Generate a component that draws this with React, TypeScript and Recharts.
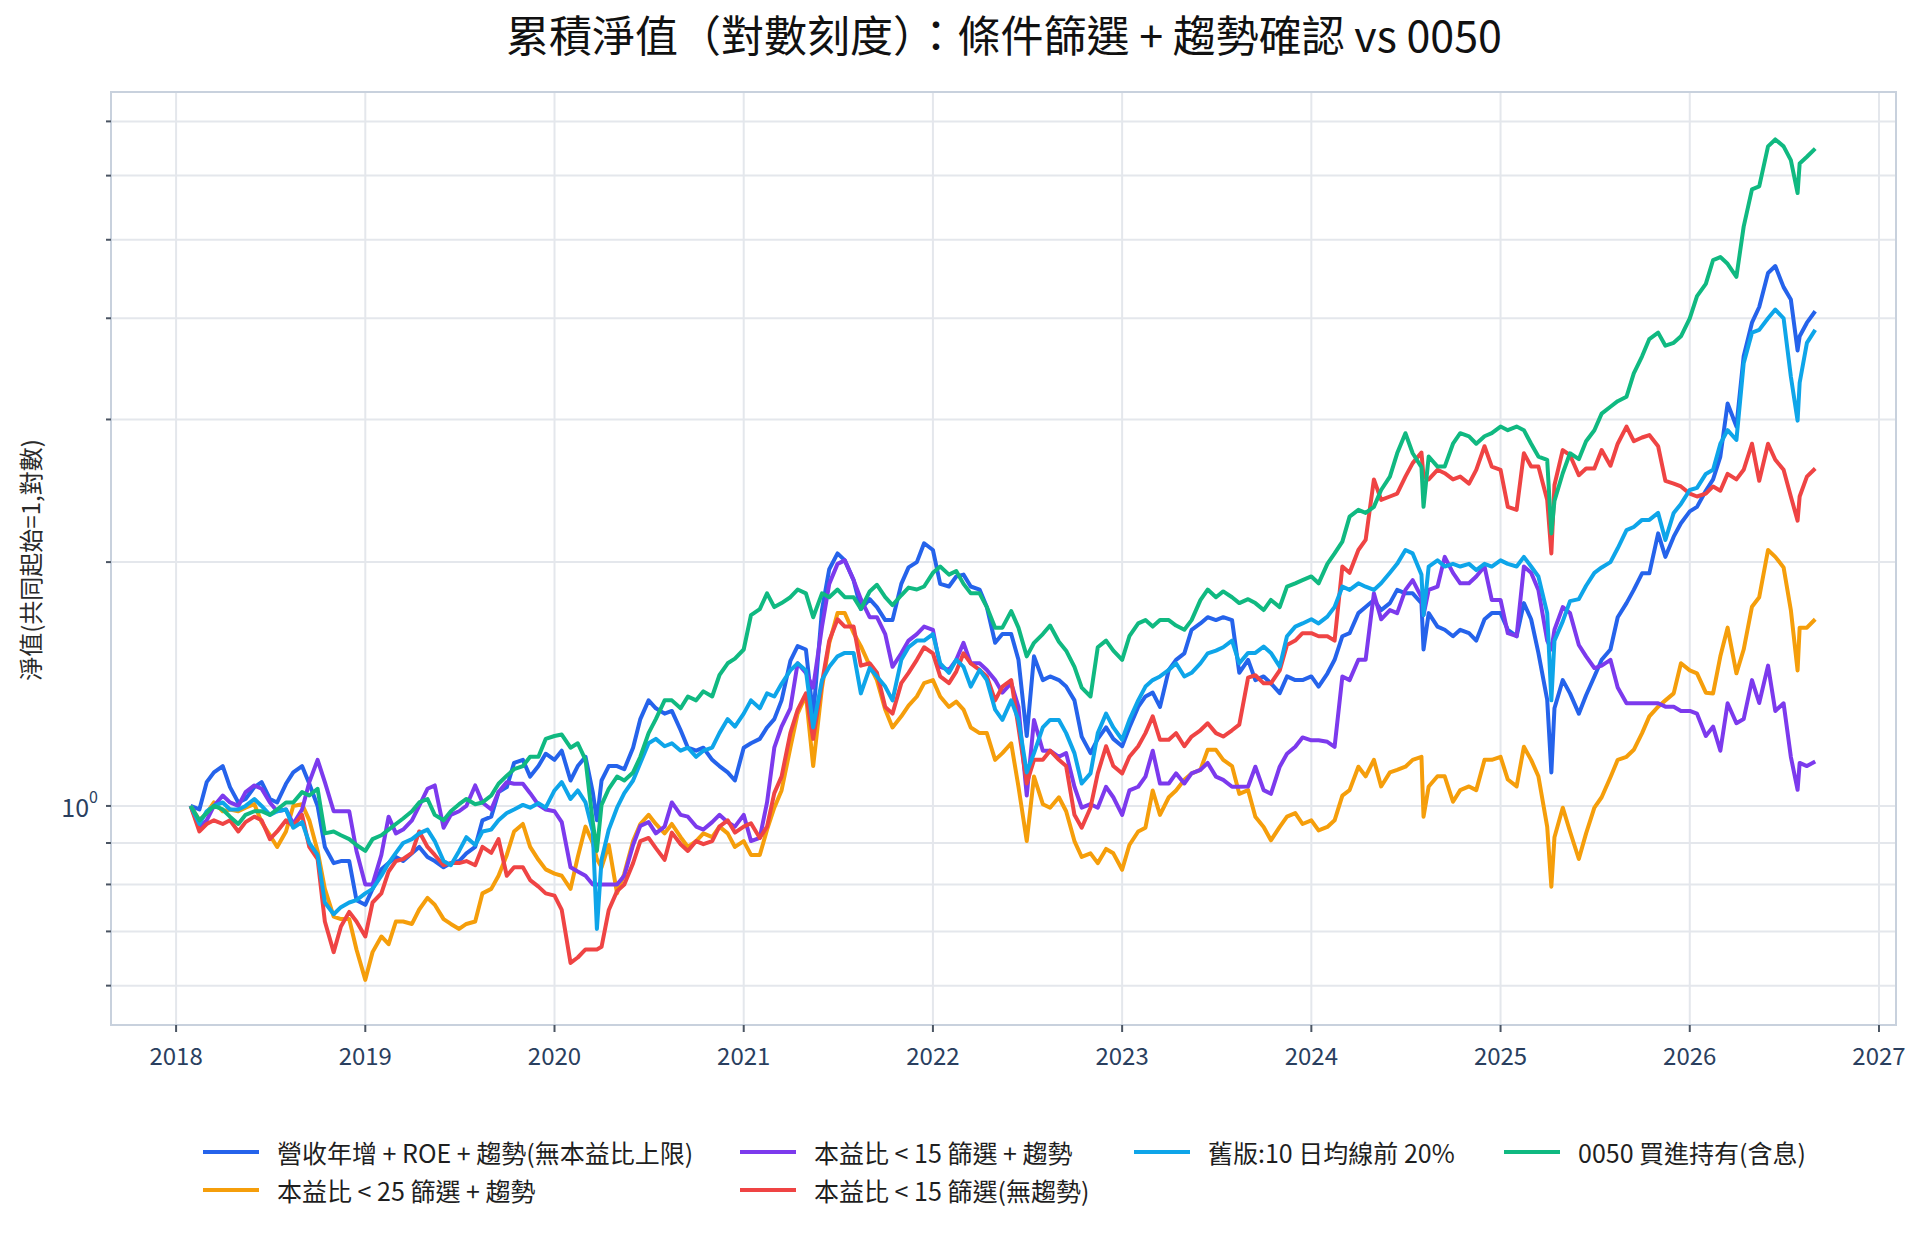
import { LineChart, Line, XAxis, YAxis, CartesianGrid, Legend, ReferenceArea } from 'recharts'

const FONT = "'Noto Sans CJK TC', 'Noto Sans', sans-serif"

// sampling dates (1st / 15th of month, plus a few crash days)
const DATES = [
  '2018-01-29', '2018-02-15', '2018-03-01', '2018-03-15', '2018-04-01', '2018-04-15', '2018-05-01', '2018-05-15', '2018-06-01', '2018-06-15', '2018-07-01', '2018-07-15', '2018-08-01', '2018-08-15', '2018-09-01', '2018-09-15', '2018-10-01', '2018-10-15', '2018-11-01', '2018-11-15', '2018-12-01', '2018-12-15',
  '2019-01-01', '2019-01-15', '2019-02-01', '2019-02-15', '2019-03-01', '2019-03-15', '2019-04-01', '2019-04-15', '2019-05-01', '2019-05-15', '2019-06-01', '2019-06-15', '2019-07-01', '2019-07-15', '2019-08-01', '2019-08-15', '2019-09-01', '2019-09-15', '2019-10-01', '2019-10-15', '2019-11-01', '2019-11-15', '2019-12-01', '2019-12-15',
  '2020-01-01', '2020-01-15', '2020-02-01', '2020-02-15', '2020-03-01', '2020-03-15', '2020-03-23', '2020-04-01', '2020-04-15', '2020-05-01', '2020-05-15', '2020-06-01', '2020-06-15', '2020-07-01', '2020-07-15', '2020-08-01', '2020-08-15', '2020-09-01', '2020-09-15', '2020-10-01', '2020-10-15', '2020-11-01', '2020-11-15', '2020-12-01', '2020-12-15',
  '2021-01-01', '2021-01-15', '2021-02-01', '2021-02-15', '2021-03-01', '2021-03-15', '2021-04-01', '2021-04-15', '2021-05-01', '2021-05-15', '2021-06-01', '2021-06-15', '2021-07-01', '2021-07-15', '2021-08-01', '2021-08-15', '2021-09-01', '2021-09-15', '2021-10-01', '2021-10-15', '2021-11-01', '2021-11-15', '2021-12-01', '2021-12-15',
  '2022-01-01', '2022-01-15', '2022-02-01', '2022-02-15', '2022-03-01', '2022-03-15', '2022-04-01', '2022-04-15', '2022-05-01', '2022-05-15', '2022-06-01', '2022-06-15', '2022-07-01', '2022-07-15', '2022-08-01', '2022-08-15', '2022-09-01', '2022-09-15', '2022-10-01', '2022-10-15', '2022-11-01', '2022-11-15', '2022-12-01', '2022-12-15',
  '2023-01-01', '2023-01-15', '2023-02-01', '2023-02-15', '2023-03-01', '2023-03-15', '2023-04-01', '2023-04-15', '2023-05-01', '2023-05-15', '2023-06-01', '2023-06-15', '2023-07-01', '2023-07-15', '2023-08-01', '2023-08-15', '2023-09-01', '2023-09-15', '2023-10-01', '2023-10-15', '2023-11-01', '2023-11-15', '2023-12-01', '2023-12-15',
  '2024-01-01', '2024-01-15', '2024-02-01', '2024-02-15', '2024-03-01', '2024-03-15', '2024-04-01', '2024-04-15', '2024-05-01', '2024-05-15', '2024-06-01', '2024-06-15', '2024-07-01', '2024-07-15', '2024-08-01', '2024-08-05', '2024-08-15', '2024-09-01', '2024-09-15', '2024-10-01', '2024-10-15', '2024-11-01', '2024-11-15', '2024-12-01', '2024-12-15',
  '2025-01-01', '2025-01-15', '2025-02-01', '2025-02-15', '2025-03-01', '2025-03-15', '2025-04-01', '2025-04-09', '2025-04-15', '2025-05-01', '2025-05-15', '2025-06-01', '2025-06-15', '2025-07-01', '2025-07-15', '2025-08-01', '2025-08-15', '2025-09-01', '2025-09-15', '2025-10-01', '2025-10-15', '2025-11-01', '2025-11-15', '2025-12-01', '2025-12-15',
  '2026-01-01', '2026-01-15', '2026-02-01', '2026-02-15', '2026-03-01', '2026-03-15', '2026-04-01', '2026-04-15', '2026-05-01', '2026-05-15', '2026-06-01', '2026-06-15', '2026-07-01', '2026-07-15', '2026-07-28', '2026-08-01', '2026-08-15', '2026-08-31',
]

// 營收年增 + ROE + 趨勢
const REV_ROE = [
  1.0, 0.99, 1.07, 1.10, 1.12, 1.055, 1.01, 1.02, 1.055, 1.07, 1.02, 1.01, 1.065, 1.10, 1.12, 1.065, 1.0, 0.89, 0.85, 0.855, 0.855, 0.765,
  0.755, 0.79, 0.835, 0.85, 0.865, 0.855, 0.874, 0.89, 0.865, 0.855, 0.84, 0.85, 0.855, 0.874, 0.89, 0.96, 0.97, 1.04, 1.055, 1.13, 1.14, 1.087, 1.12, 1.16,
  1.14, 1.17, 1.075, 1.12, 1.15, 1.04, 0.96, 1.075, 1.12, 1.12, 1.11, 1.18, 1.28, 1.35, 1.32, 1.30, 1.31, 1.24, 1.18, 1.17, 1.18, 1.14, 1.12, 1.10, 1.075,
  1.18, 1.195, 1.21, 1.25, 1.28, 1.35, 1.51, 1.575, 1.56, 1.29, 1.746, 1.96, 2.05, 2.01, 1.90, 1.75, 1.80, 1.76, 1.696, 1.696, 1.88, 1.97, 2.0, 2.11,
  2.07, 1.88, 1.866, 1.92, 1.93, 1.866, 1.85, 1.76, 1.59, 1.63, 1.63, 1.515, 1.22, 1.53, 1.43, 1.445, 1.43, 1.404, 1.35, 1.218, 1.162, 1.21, 1.25, 1.21,
  1.185, 1.25, 1.325, 1.365, 1.38, 1.325, 1.472, 1.515, 1.543, 1.65, 1.68, 1.71, 1.696, 1.71, 1.696, 1.46, 1.515, 1.43, 1.445, 1.417, 1.378, 1.445, 1.43, 1.43,
  1.445, 1.404, 1.457, 1.515, 1.62, 1.634, 1.73, 1.76, 1.796, 1.745, 1.78, 1.848, 1.83, 1.83, 1.78, 1.56, 1.73, 1.665, 1.65, 1.62, 1.65, 1.634, 1.60, 1.70, 1.73,
  1.73, 1.65, 1.62, 1.78, 1.70, 1.545, 1.352, 1.10, 1.32, 1.43, 1.377, 1.30, 1.37, 1.445, 1.515, 1.56, 1.71, 1.78, 1.848, 1.937, 1.937, 2.17, 2.03, 2.15, 2.234,
  2.31, 2.34, 2.45, 2.53, 2.70, 3.14, 2.94, 3.59, 3.95, 4.13, 4.55, 4.64, 4.37, 4.22, 3.65, 3.80, 3.95, 4.08,
]

// 本益比 < 25 篩選 + 趨勢
const PE25 = [
  1.0, 0.96, 0.98, 1.01, 0.985, 0.99, 0.985, 0.995, 1.005, 0.955, 0.92, 0.89, 0.93, 1.0, 1.005, 0.96, 0.88, 0.79, 0.73, 0.725, 0.725, 0.665,
  0.61, 0.66, 0.69, 0.675, 0.72, 0.72, 0.715, 0.745, 0.77, 0.755, 0.725, 0.715, 0.705, 0.715, 0.72, 0.78, 0.79, 0.82, 0.87, 0.93, 0.95, 0.89, 0.858, 0.835,
  0.825, 0.82, 0.79, 0.865, 0.943, 0.90, 0.86, 0.84, 0.895, 0.78, 0.825, 0.905, 0.95, 0.975, 0.95, 0.925, 0.95, 0.915, 0.89, 0.905, 0.925, 0.915, 0.943, 0.925, 0.89,
  0.905, 0.87, 0.87, 0.935, 0.995, 1.045, 1.18, 1.30, 1.37, 1.12, 1.40, 1.588, 1.73, 1.73, 1.635, 1.575, 1.49, 1.43, 1.315, 1.25, 1.29, 1.33, 1.365, 1.418,
  1.43, 1.365, 1.325, 1.345, 1.315, 1.25, 1.23, 1.23, 1.14, 1.162, 1.195, 1.056, 0.905, 1.087, 1.005, 0.995, 1.025, 0.985, 0.905, 0.865, 0.874, 0.85, 0.885, 0.874,
  0.834, 0.895, 0.93, 0.94, 1.045, 0.975, 1.025, 1.045, 1.077, 1.097, 1.108, 1.173, 1.173, 1.14, 1.12, 1.035, 1.046, 0.97, 0.942, 0.907, 0.942, 0.97, 0.98, 0.95,
  0.96, 0.933, 0.942, 0.96, 1.03, 1.046, 1.118, 1.088, 1.14, 1.057, 1.10, 1.108, 1.118, 1.14, 1.15, 0.97, 1.057, 1.088, 1.088, 1.012, 1.046, 1.057, 1.046, 1.14, 1.14,
  1.15, 1.078, 1.057, 1.183, 1.14, 1.088, 0.942, 0.795, 0.915, 0.995, 0.93, 0.86, 0.925, 0.995, 1.025, 1.085, 1.14, 1.15, 1.173, 1.23, 1.29, 1.326, 1.35, 1.377, 1.50,
  1.47, 1.458, 1.38, 1.377, 1.53, 1.66, 1.458, 1.56, 1.762, 1.81, 2.07, 2.03, 1.97, 1.745, 1.47, 1.66, 1.66, 1.70,
]

// 本益比 < 15 篩選 + 趨勢
const PE15_TREND = [
  1.0, 0.94, 0.96, 1.0, 1.03, 1.01, 1.0, 1.04, 1.06, 1.05, 1.01, 0.985, 0.99, 0.95, 0.99, 1.07, 1.14, 1.07, 0.985, 0.985, 0.985, 0.88,
  0.80, 0.80, 0.87, 0.97, 0.925, 0.935, 0.96, 1.0, 1.05, 1.06, 0.94, 0.975, 0.985, 1.0, 1.06, 1.01, 0.99, 1.04, 1.07, 1.065, 1.065, 1.037, 1.003, 0.99,
  0.985, 0.955, 0.84, 0.83, 0.82, 0.80, 0.80, 0.80, 0.80, 0.80, 0.82, 0.895, 0.945, 0.955, 0.925, 0.943, 1.01, 0.975, 0.97, 0.943, 0.935, 0.955, 0.975, 0.955, 0.943,
  0.975, 0.905, 0.913, 1.01, 1.18, 1.253, 1.32, 1.50, 1.46, 1.40, 1.665, 1.88, 1.99, 2.01, 1.90, 1.80, 1.71, 1.71, 1.63, 1.485, 1.543, 1.60, 1.63, 1.665,
  1.65, 1.485, 1.472, 1.515, 1.59, 1.50, 1.50, 1.472, 1.43, 1.38, 1.418, 1.325, 1.03, 1.277, 1.17, 1.17, 1.15, 1.162, 1.056, 0.995, 1.005, 0.995, 1.056, 1.025,
  0.975, 1.045, 1.056, 1.087, 1.17, 1.066, 1.066, 1.097, 1.066, 1.097, 1.108, 1.13, 1.087, 1.077, 1.056, 1.056, 1.057, 1.118, 1.046, 1.035, 1.118, 1.16, 1.183, 1.215,
  1.205, 1.205, 1.20, 1.183, 1.445, 1.43, 1.515, 1.515, 1.83, 1.70, 1.745, 1.73, 1.848, 1.90, 1.81, 1.72, 1.848, 1.865, 2.03, 1.94, 1.883, 1.883, 1.92, 1.975, 1.796,
  1.796, 1.634, 1.62, 1.975, 1.94, 1.848, 1.60, 1.56, 1.65, 1.76, 1.73, 1.58, 1.53, 1.48, 1.49, 1.515, 1.40, 1.339, 1.339, 1.339, 1.339, 1.339, 1.326, 1.326, 1.31,
  1.31, 1.30, 1.22, 1.253, 1.17, 1.339, 1.265, 1.28, 1.43, 1.34, 1.49, 1.31, 1.339, 1.15, 1.047, 1.13, 1.12, 1.135,
]

// 本益比 < 15 篩選(無趨勢)
const PE15_RAW = [
  1.0, 0.93, 0.95, 0.96, 0.95, 0.96, 0.93, 0.955, 0.97, 0.96, 0.91, 0.93, 0.96, 0.945, 0.975, 0.89, 0.86, 0.72, 0.66, 0.71, 0.74, 0.72,
  0.69, 0.76, 0.78, 0.83, 0.855, 0.86, 0.875, 0.93, 0.89, 0.87, 0.845, 0.85, 0.85, 0.855, 0.845, 0.89, 0.875, 0.91, 0.82, 0.84, 0.84, 0.81, 0.795, 0.78,
  0.775, 0.744, 0.64, 0.65, 0.665, 0.665, 0.665, 0.67, 0.744, 0.785, 0.80, 0.85, 0.905, 0.913, 0.887, 0.858, 0.927, 0.897, 0.88, 0.905, 0.897, 0.905, 0.943, 0.96, 0.927,
  0.943, 0.952, 0.913, 0.943, 1.037, 1.087, 1.23, 1.314, 1.377, 1.21, 1.42, 1.60, 1.70, 1.665, 1.665, 1.49, 1.50, 1.46, 1.325, 1.30, 1.418, 1.46, 1.515, 1.57,
  1.543, 1.445, 1.418, 1.465, 1.543, 1.50, 1.472, 1.445, 1.35, 1.404, 1.43, 1.25, 1.066, 1.14, 1.14, 1.17, 1.14, 1.12, 0.975, 0.94, 0.995, 1.097, 1.185, 1.12,
  1.097, 1.15, 1.185, 1.23, 1.29, 1.207, 1.207, 1.23, 1.185, 1.218, 1.24, 1.265, 1.23, 1.218, 1.24, 1.26, 1.44, 1.45, 1.417, 1.417, 1.47, 1.58, 1.60, 1.634,
  1.634, 1.62, 1.62, 1.60, 1.975, 1.94, 2.07, 2.13, 2.53, 2.387, 2.41, 2.43, 2.55, 2.65, 2.73, 2.55, 2.53, 2.60, 2.575, 2.53, 2.55, 2.50, 2.60, 2.78, 2.624,
  2.60, 2.34, 2.32, 2.725, 2.624, 2.624, 2.387, 2.05, 2.49, 2.75, 2.71, 2.56, 2.61, 2.61, 2.75, 2.63, 2.80, 2.94, 2.82, 2.85, 2.87, 2.78, 2.52, 2.50, 2.48,
  2.43, 2.41, 2.43, 2.48, 2.45, 2.57, 2.53, 2.60, 2.80, 2.52, 2.80, 2.675, 2.60, 2.41, 2.25, 2.41, 2.55, 2.61,
]

// 舊版:10 日均線前 20%
const MA10_OLD = [
  1.0, 0.95, 0.985, 1.0, 1.01, 0.99, 0.99, 1.0, 1.02, 1.0, 0.975, 0.985, 0.99, 0.94, 0.955, 0.90, 0.87, 0.76, 0.735, 0.75, 0.76, 0.765,
  0.78, 0.79, 0.82, 0.85, 0.875, 0.90, 0.91, 0.925, 0.935, 0.905, 0.855, 0.845, 0.88, 0.915, 0.895, 0.93, 0.935, 0.96, 0.98, 0.99, 1.003, 0.995, 1.008, 0.995,
  1.045, 1.07, 1.02, 1.045, 1.01, 0.93, 0.705, 0.858, 0.935, 0.995, 1.037, 1.075, 1.13, 1.195, 1.21, 1.185, 1.195, 1.17, 1.18, 1.15, 1.17, 1.18, 1.23, 1.28, 1.253,
  1.30, 1.35, 1.32, 1.377, 1.365, 1.415, 1.47, 1.50, 1.47, 1.25, 1.43, 1.485, 1.53, 1.545, 1.545, 1.377, 1.48, 1.445, 1.404, 1.35, 1.515, 1.57, 1.60, 1.60,
  1.63, 1.50, 1.46, 1.515, 1.485, 1.404, 1.472, 1.43, 1.315, 1.277, 1.35, 1.277, 1.10, 1.162, 1.25, 1.277, 1.277, 1.23, 1.162, 1.066, 1.097, 1.23, 1.30, 1.25,
  1.207, 1.277, 1.35, 1.404, 1.43, 1.445, 1.472, 1.50, 1.445, 1.46, 1.50, 1.543, 1.555, 1.57, 1.60, 1.50, 1.545, 1.545, 1.573, 1.545, 1.486, 1.62, 1.665, 1.68,
  1.70, 1.68, 1.713, 1.76, 1.865, 1.848, 1.883, 1.865, 1.848, 1.883, 1.94, 1.99, 2.07, 2.05, 1.93, 1.72, 1.975, 2.01, 1.975, 1.99, 1.975, 1.99, 1.955, 1.99, 1.975,
  2.01, 1.99, 1.975, 2.03, 1.975, 1.92, 1.73, 1.35, 1.60, 1.69, 1.79, 1.80, 1.87, 1.94, 1.97, 2.0, 2.08, 2.19, 2.21, 2.255, 2.255, 2.30, 2.13, 2.30, 2.36,
  2.455, 2.47, 2.57, 2.60, 2.80, 2.91, 2.83, 3.52, 3.84, 3.87, 4.0, 4.10, 4.0, 3.39, 2.99, 3.33, 3.73, 3.87,
]

// 0050 買進持有(含息)
const ETF_0050 = [
  1.0, 0.96, 0.98, 1.0, 0.99, 0.97, 0.95, 0.975, 0.985, 0.985, 0.975, 0.99, 1.01, 1.01, 1.04, 1.03, 1.05, 0.925, 0.93, 0.92, 0.91, 0.895,
  0.88, 0.91, 0.92, 0.935, 0.95, 0.965, 0.985, 1.01, 1.02, 0.975, 0.96, 0.985, 1.005, 1.02, 1.005, 1.01, 1.03, 1.065, 1.09, 1.11, 1.12, 1.15, 1.15, 1.21,
  1.22, 1.225, 1.18, 1.195, 1.14, 0.955, 0.88, 1.003, 1.05, 1.087, 1.075, 1.10, 1.15, 1.23, 1.28, 1.35, 1.35, 1.32, 1.365, 1.35, 1.385, 1.365, 1.45, 1.50, 1.52,
  1.56, 1.72, 1.75, 1.83, 1.76, 1.78, 1.81, 1.85, 1.83, 1.71, 1.83, 1.81, 1.85, 1.81, 1.81, 1.75, 1.84, 1.875, 1.81, 1.77, 1.82, 1.86, 1.85, 1.866,
  1.94, 1.975, 1.93, 1.95, 1.88, 1.83, 1.83, 1.76, 1.66, 1.66, 1.74, 1.66, 1.53, 1.59, 1.63, 1.67, 1.595, 1.555, 1.485, 1.40, 1.365, 1.57, 1.60, 1.555,
  1.515, 1.62, 1.68, 1.696, 1.665, 1.696, 1.696, 1.67, 1.65, 1.696, 1.795, 1.85, 1.81, 1.84, 1.81, 1.78, 1.80, 1.78, 1.745, 1.796, 1.76, 1.865, 1.883, 1.90,
  1.92, 1.883, 1.99, 2.05, 2.12, 2.276, 2.32, 2.30, 2.34, 2.455, 2.55, 2.725, 2.885, 2.725, 2.62, 2.34, 2.70, 2.624, 2.624, 2.80, 2.885, 2.86, 2.80, 2.86, 2.885,
  2.94, 2.91, 2.94, 2.91, 2.80, 2.70, 2.675, 2.17, 2.38, 2.575, 2.725, 2.68, 2.82, 2.91, 3.05, 3.11, 3.16, 3.20, 3.42, 3.59, 3.77, 3.84, 3.70, 3.73, 3.80,
  4.0, 4.26, 4.41, 4.72, 4.76, 4.67, 4.50, 5.19, 5.77, 5.82, 6.52, 6.65, 6.52, 6.27, 5.71, 6.21, 6.33, 6.48,
]

const X_TICKS = [2018, 2019, 2020, 2021, 2022, 2023, 2024, 2025, 2026, 2027]
const Y_TICKS = [0.6, 0.7, 0.8, 0.9, 1, 2, 3, 4, 5, 6, 7]
const X_DOMAIN: [number, number] = [2017.656, 2027.09]
const Y_DOMAIN: [number, number] = [0.5365, 7.61]

// drawing order = legend column order (last one on top)
const SERIES = [
  { key: 'revRoe', name: '營收年增 + ROE + 趨勢(無本益比上限)', color: '#2563eb', values: REV_ROE, col: 0, row: 0 },
  { key: 'pe25', name: '本益比 < 25 篩選 + 趨勢', color: '#f59e0b', values: PE25, col: 0, row: 1 },
  { key: 'pe15Trend', name: '本益比 < 15 篩選 + 趨勢', color: '#7c3aed', values: PE15_TREND, col: 1, row: 0 },
  { key: 'pe15Raw', name: '本益比 < 15 篩選(無趨勢)', color: '#ef4444', values: PE15_RAW, col: 1, row: 1 },
  { key: 'ma10', name: '舊版:10 日均線前 20%', color: '#0ea5e9', values: MA10_OLD, col: 2, row: 0 },
  { key: 'etf', name: '0050 買進持有(含息)', color: '#10b981', values: ETF_0050, col: 3, row: 0 },
]

const LEGEND_COLS = [203, 740, 1134, 1504]
const LEGEND_ROWS = [22, 60]

function toYear(d: string) {
  const [y, m, day] = d.split('-').map(Number)
  const start = Date.UTC(y, 0, 1)
  const end = Date.UTC(y + 1, 0, 1)
  return y + (Date.UTC(y, m - 1, day) - start) / (end - start)
}

const rows = DATES.map((d, i) => {
  const r: Record<string, number> = { x: toYear(d) }
  SERIES.forEach(s => { r[s.key] = s.values[i] })
  return r
})

const YTick = ({ x, y, payload }: any) => payload.value === 1 ? (
  <text x={x} y={y} textAnchor="end" dominantBaseline="central" fill="#2a3f5f" fontFamily={FONT}>
    <tspan fontSize={25}>10</tspan>
    <tspan fontSize={16} dy={-10}>0</tspan>
  </text>
) : null

const LegendBox = () => (
  <div style={{ position: 'relative', width: 1924, height: 96, fontFamily: FONT }}>
    {SERIES.map(s => (
      <div key={s.key} style={{ position: 'absolute', left: LEGEND_COLS[s.col], top: LEGEND_ROWS[s.row] - 18, height: 36, display: 'flex', alignItems: 'center', whiteSpace: 'nowrap' }}>
        <span style={{ display: 'inline-block', width: 56, height: 4, background: s.color, marginRight: 18 }} />
        <span style={{ fontSize: 25, color: '#1f1f1f' }}>{s.name}</span>
      </div>
    ))}
  </div>
)

export default function App() {
  return (
    <div style={{ position: 'absolute', left: 0, top: 0, width: 1924, height: 1234, background: '#fff', fontFamily: FONT }}>
      <div style={{ position: 'absolute', left: 0, top: 8, width: 2008, textAlign: 'center', fontSize: 43, lineHeight: '50px', color: '#111', whiteSpace: 'nowrap' }}>
        累積淨值（對數刻度）：條件篩選 + 趨勢確認 vs 0050
      </div>
      <div style={{ position: 'absolute', left: 30 - 200, top: 560 - 16, width: 400, height: 32, lineHeight: '32px', textAlign: 'center', fontSize: 24, color: '#2a2a2a', transform: 'rotate(-90deg)', whiteSpace: 'nowrap' }}>
        淨值(共同起始=1,對數)
      </div>
      <LineChart width={1924} height={1234} data={rows} margin={{ top: 92, right: 28, bottom: 149, left: 11 }}>
        <CartesianGrid stroke="#e4e7ec" strokeWidth={2} verticalValues={X_TICKS} />
        <XAxis
          dataKey="x" type="number" domain={X_DOMAIN} allowDataOverflow ticks={X_TICKS} height={60}
          axisLine={false} tickLine={{ stroke: '#4b5563', strokeWidth: 2 }} tickSize={7} tickMargin={16}
          tick={{ fill: '#2a3f5f', fontSize: 24, fontFamily: FONT }} interval={0}
        />
        <YAxis
          type="number" scale="log" domain={Y_DOMAIN} allowDataOverflow ticks={Y_TICKS} width={100}
          axisLine={false} tickLine={{ stroke: '#4b5563', strokeWidth: 2 }} tickSize={5} tickMargin={8}
          tick={<YTick />} interval={0}
        />
        <ReferenceArea x1={X_DOMAIN[0]} x2={X_DOMAIN[1]} y1={Y_DOMAIN[0]} y2={Y_DOMAIN[1]} fill="none" stroke="#c8d1dd" strokeWidth={2} ifOverflow="visible" />
        {SERIES.map(s => (
          <Line key={s.key} dataKey={s.key} name={s.name} stroke={s.color} strokeWidth={4} dot={false}
            type="linear" strokeLinejoin="round" isAnimationActive={false} />
        ))}
        <Legend layout="horizontal" verticalAlign="middle" align="center" content={<LegendBox />}
          wrapperStyle={{ left: 0, top: 1130, width: 1924, height: 96 }} />
      </LineChart>
    </div>
  )
}
